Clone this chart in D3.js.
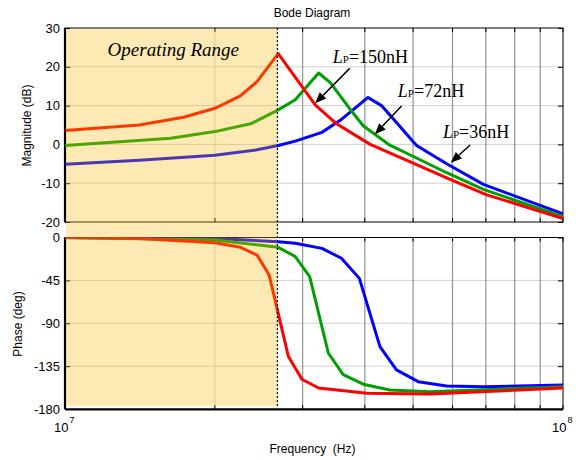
<!DOCTYPE html>
<html><head><meta charset="utf-8">
<script src="https://cdn.jsdelivr.net/npm/d3@7"></script>
<style>body{margin:0;background:#fff}</style>
</head><body>
<svg id="c" width="578" height="460"></svg>
<script>
// ---------- data ----------
const freqTicks = [1e7,2e7,3e7,4e7,5e7,6e7,7e7,8e7,9e7,1e8];
const magTicks = [30,20,10,0,-10,-20];
const phaseTicks = [0,-45,-90,-135,-180];
const seriesLabels = ["36nH","72nH","150nH"];
const seriesColors = ["#0000ff","#00a000","#ff0000"];

// magnitude (frequency in MHz, dB)
const magFreq36  = [10, 14.1, 20, 24.3, 26.8, 29.0, 32.8, 35.7, 40.6, 43.2, 45.6, 50.8, 58.4, 69.2, 100];
const magDb36    = [-5.1, -4.1, -2.8, -1.4, -0.3, 0.85, 3.1, 6.2, 12.1, 10.0, 6.6, -0.3, -5.0, -10.3, -17.9];
const magFreq72  = [10, 16.3, 20, 23.7, 26.8, 29.0, 32.3, 34.1, 37.3, 39.7, 44.9, 50.8, 58.4, 69.2, 100];
const magDb72    = [-0.3, 1.6, 3.3, 5.4, 8.9, 11.5, 18.4, 15.9, 9.2, 4.8, -0.2, -3.5, -7.3, -11.6, -18.6];
const magFreq150 = [10, 14.1, 17.3, 20, 22.5, 24.3, 26.8, 31.8, 35.1, 41.0, 50.0, 59.8, 70.3, 100];
const magDb150   = [3.6, 5.0, 7.0, 9.3, 12.5, 16.2, 23.4, 10.2, 5.3, 0.0, -4.8, -9.2, -13.0, -19.1];

// phase (frequency in MHz, degrees)
const phFreq36  = [10, 20, 26.8, 29.0, 32.8, 35.9, 39.0, 42.9, 46.3, 51.2, 58.4, 69.2, 100];
const phDeg36   = [0, -1, -4.4, -6, -11.4, -21.8, -42.9, -114.6, -139, -151.3, -155.9, -156.6, -154.8];
const phFreq72  = [10, 20, 26.8, 29.0, 31.0, 33.8, 36.2, 39.7, 44.9, 54.1, 100];
const phDeg72   = [0, -2.6, -10.3, -20, -41, -121.5, -144, -154, -160, -161.8, -156.6];
const phFreq150 = [10, 14.1, 20, 22.5, 24.3, 25.7, 26.8, 28.1, 29.9, 32.3, 40.4, 54.1, 100];
const phDeg150  = [0, -1, -5.5, -10.3, -18.4, -39.4, -79.6, -125, -148.8, -158, -163.5, -164.3, -158];

const operatingRangeEndMHz = 26.7;

// annotations: label anchor and arrow (MHz, dB)
const annLabelF = [57.4, 46.6, 34.5];
const annLabelDb = [1.65, 12.2, 21.0];
const annArrowFromF = [65.1, 47.4, 37.3];
const annArrowFromDb = [-0.15, 9.9, 19.6];
const annArrowToF = [59.5, 41.9, 31.8];
const annArrowToDb = [-4.7, 2.6, 10.6];

// ---------- layout ----------
const svg = d3.select("#c");
const X0 = 65, X1 = 563;
const magTop = 28, magBot = 222, phTop = 237.5, phBot = 409;
const x = d3.scaleLog().domain([1e7, 1e8]).range([X0, X1]);
const yMag = d3.scaleLinear().domain([-20, 30]).range([magBot, magTop]);
const yPh = d3.scaleLinear().domain([-180, 0]).range([phBot, phTop]);
const sans = "'Liberation Sans', Arial, Helvetica, sans-serif";
const serif = "'Liberation Serif', 'Times New Roman', serif";
const xEnd = x(operatingRangeEndMHz * 1e6);

const defs = svg.append("defs");
defs.append("clipPath").attr("id","cm").append("rect").attr("x",X0).attr("y",magTop).attr("width",X1-X0).attr("height",magBot-magTop);
defs.append("clipPath").attr("id","cp").append("rect").attr("x",X0).attr("y",phTop).attr("width",X1-X0).attr("height",phBot-phTop);

function panel(y, ticks, top, bot, clipId, freqs, vals) {
  const g = svg.append("g");
  // grid
  g.selectAll(".hg").data(ticks.filter(t => y(t) > top + 1 && y(t) < bot - 1)).join("line")
    .attr("x1", X0).attr("x2", X1).attr("y1", d => y(d)).attr("y2", d => y(d))
    .attr("stroke", "#d2d2d2").attr("stroke-width", 1);
  g.selectAll(".vg").data(freqTicks.slice(1, -1)).join("line")
    .attr("x1", d => x(d)).attr("x2", d => x(d)).attr("y1", top).attr("y2", bot)
    .attr("stroke", d => x(d) < xEnd ? "#d2d2d2" : "#9a9a9a").attr("stroke-width", d => x(d) < xEnd ? 1 : 1.3);
  // left axis with labels
  const ax = d3.axisLeft(y).tickValues(ticks).tickSize(-5).tickPadding(5).tickFormat(d => String(d));
  const ga = g.append("g").attr("transform", `translate(${X0},0)`).call(ax);
  ga.select(".domain").remove();
  ga.selectAll("text").attr("font-family", sans).attr("font-size", 13).attr("fill", "#000");
  ga.selectAll("line").attr("stroke", "#000");
  const ar = d3.axisRight(y).tickValues(ticks).tickSize(-5).tickFormat("");
  const gr = g.append("g").attr("transform", `translate(${X1},0)`).call(ar);
  gr.select(".domain").remove();
  // top / bottom ticks
  g.selectAll(".tt").data(freqTicks).join("line")
    .attr("x1", d => x(d)).attr("x2", d => x(d)).attr("y1", top).attr("y2", top + 4).attr("stroke", "#000");
  g.selectAll(".bt").data(freqTicks).join("line")
    .attr("x1", d => x(d)).attr("x2", d => x(d)).attr("y1", bot).attr("y2", bot - 4).attr("stroke", "#000");
  // box
  g.append("rect").attr("x", X0).attr("y", top).attr("width", X1 - X0).attr("height", bot - top)
    .attr("fill", "none").attr("stroke", "#000").attr("stroke-width", 1);
  g.append("line").attr("x1", X0).attr("x2", X0).attr("y1", top).attr("y2", bot)
    .attr("stroke", "#000").attr("stroke-width", 2.2);
  // curves
  const line = d3.line().x(d => x(d[0] * 1e6)).y(d => y(d[1]));
  const cg = g.append("g").attr("clip-path", `url(#${clipId})`);
  freqs.forEach((f, i) => {
    cg.append("path").attr("d", line(f.map((v, j) => [v, vals[i][j]])))
      .attr("fill", "none").attr("stroke", seriesColors[i]).attr("stroke-width", 3)
      .attr("stroke-linejoin", "round");
  });
  return g;
}

panel(yMag, magTicks, magTop, magBot, "cm", [magFreq36, magFreq72, magFreq150], [magDb36, magDb72, magDb150]);
const gp = panel(yPh, phaseTicks, phTop, phBot, "cp", [phFreq36, phFreq72, phFreq150], [phDeg36, phDeg72, phDeg150]);
gp.append("line").attr("x1", X0).attr("x2", X1).attr("y1", phBot + 0.5).attr("y2", phBot + 0.5).attr("stroke", "#000").attr("stroke-width", 2);

// operating range overlay
svg.append("rect").attr("x", X0 + 1).attr("y", magTop + 1).attr("width", xEnd - X0 - 1).attr("height", 406 - magTop - 1)
  .attr("fill", "rgb(248,182,5)").attr("fill-opacity", 0.3);
svg.append("line").attr("x1", xEnd).attr("x2", xEnd).attr("y1", magTop).attr("y2", 406)
  .attr("stroke", "#000").attr("stroke-width", 1.2).attr("stroke-dasharray", "2,2");

svg.append("text").attr("x", x(16.5e6)).attr("y", yMag(22.8)).attr("text-anchor", "middle")
  .attr("font-family", serif).attr("font-style", "italic").attr("font-size", 19).text("Operating Range");

// annotations
seriesLabels.forEach((lab, i) => {
  const t = svg.append("text").attr("x", x(annLabelF[i] * 1e6)).attr("y", yMag(annLabelDb[i]))
    .attr("font-family", serif).attr("font-size", 18).attr("fill", "#000");
  t.append("tspan").attr("font-style", "italic").text("L");
  t.append("tspan").attr("font-size", 11).text("P");
  t.append("tspan").text("=" + lab);
  const x1 = x(annArrowFromF[i] * 1e6), y1 = yMag(annArrowFromDb[i]);
  const x2 = x(annArrowToF[i] * 1e6), y2 = yMag(annArrowToDb[i]);
  const dx = x2 - x1, dy = y2 - y1, L = Math.hypot(dx, dy), ux = dx / L, uy = dy / L;
  const hl = 11, hw = 4.5;
  const bx = x2 - ux * hl, by = y2 - uy * hl;
  svg.append("line").attr("x1", x1).attr("y1", y1).attr("x2", bx).attr("y2", by)
    .attr("stroke", "#000").attr("stroke-width", 1.5);
  svg.append("path").attr("d", `M${x2},${y2}L${bx - uy * hw},${by + ux * hw}L${bx + uy * hw},${by - ux * hw}Z`).attr("fill", "#000");
});

// titles
svg.append("text").attr("x", 312).attr("y", 17).attr("text-anchor", "middle")
  .attr("font-family", sans).attr("font-size", 12).text("Bode Diagram");
svg.append("text").attr("transform", "translate(31,125.5) rotate(-90)").attr("text-anchor", "middle")
  .attr("font-family", sans).attr("font-size", 12).text("Magnitude (dB)");
svg.append("text").attr("transform", "translate(22,324) rotate(-90)").attr("text-anchor", "middle")
  .attr("font-family", sans).attr("font-size", 12).text("Phase (deg)");
svg.append("text").attr("x", 312.5).attr("y", 453).attr("text-anchor", "middle").style("white-space", "pre")
  .attr("font-family", sans).attr("font-size", 12).text("Frequency  (Hz)");

// x tick labels (decades)
[1e7, 1e8].forEach(d => {
  svg.append("text").attr("x", x(d) + 3.5).attr("y", 432).attr("text-anchor", "end")
    .attr("font-family", sans).attr("font-size", 13).text("10");
  svg.append("text").attr("x", x(d) + 4.5).attr("y", 422.5)
    .attr("font-family", sans).attr("font-size", 9).text(String(Math.round(Math.log10(d))));
});
</script>
</body></html>
